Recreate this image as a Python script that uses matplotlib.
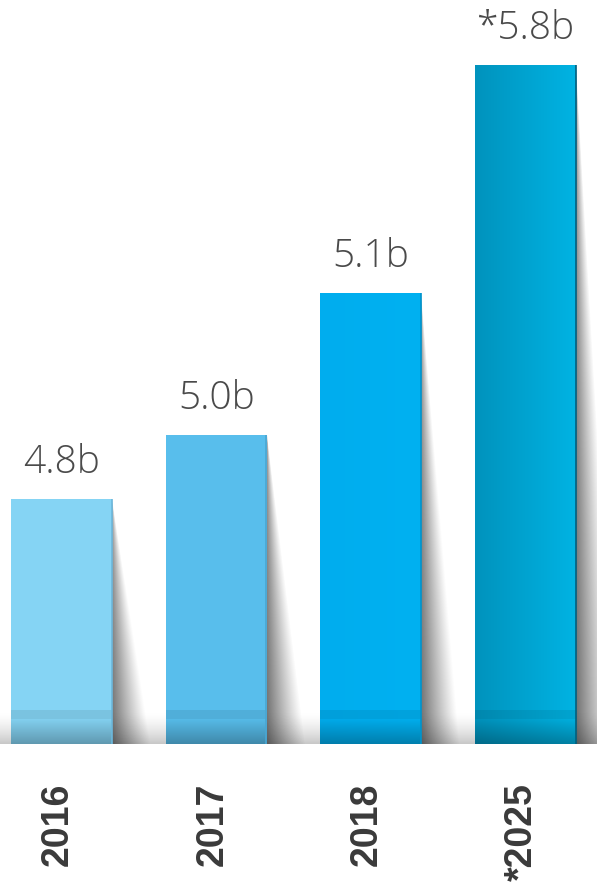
import numpy as np
import matplotlib.pyplot as plt
from matplotlib.colors import to_rgb
from matplotlib.patches import Polygon

# data
years = ['2016', '2017', '2018', '*2025']
values = [4.8, 5.0, 5.1, 5.8]
value_labels = ['4.8b', '5.0b', '5.1b', '*5.8b']
# drawn bar heights (bars are not to scale)
bar_heights = [2.45, 3.09, 4.51, 6.79]

# styles
left_colors = ['#85d4f4', '#58beec', '#00adee', '#0093bd']
right_colors = ['#85d4f4', '#58beec', '#00b1f1', '#00b3e3']
edge_colors = ['#6cb8dc', '#4aa6d2', '#0094cc', '#00607f']

fig = plt.figure(figsize=(5.97, 8.87), dpi=100)
ax = fig.add_axes([0, 0, 1, 1])
ax.axis('off')
ax.set_xlim(-0.399, 3.4625)
ax.set_ylim(-1.42, 7.45)

x = np.arange(len(years))
width = 0.653
bars = ax.bar(x, bar_heights, width, color=left_colors, zorder=3)

# soft grey floor band behind the bars
band_h = 0.33
yy = np.linspace(0, 1, 60)[:, None]
band = np.zeros((60, 10, 4))
band[..., 3] = 0.22 * (1 - yy) ** 1.5
ax.imshow(band, extent=(-0.399, 3.4625, 0, band_h), origin='lower',
          aspect='auto', zorder=1, interpolation='bilinear')

sw = 0.25  # shadow width at the floor
for i, rect in enumerate(bars):
    l = rect.get_x()
    r = l + rect.get_width()
    h = rect.get_height()

    # bar fill: horizontal gradient plus reflection strip at the bottom
    ny = int(h * 100)
    nx = 101
    cols = np.linspace(0, 1, nx)
    c0 = np.array(to_rgb(left_colors[i]))
    c1 = np.array(to_rgb(right_colors[i]))
    row = c0[None, :] + (c1 - c0)[None, :] * cols[:, None]
    ys = (np.arange(ny) + 0.5) / 100.0
    fac = np.ones(ny)
    low = ys < 0.25
    fac[low] = 0.72 + 0.26 * (ys[low] / 0.25)
    mid = (ys >= 0.25) & (ys < 0.34)
    fac[mid] = 0.92
    img = row[None, :, :] * fac[:, None, None]
    im = ax.imshow(np.clip(img, 0, 1), extent=(l, r, 0, h), origin='lower',
                   aspect='auto', zorder=4, interpolation='bilinear')
    im.set_clip_path(rect)
    ax.vlines(r - 0.003, 0, h, color=edge_colors[i], lw=1.2, zorder=5)

    # slanted drop shadow to the right of the bar
    sx = np.linspace(0, 1, 80)
    sy = np.linspace(0, 1, max(ny, 2))
    X, Y = np.meshgrid(sx, sy)
    local = np.clip(1 - Y, 1e-3, None)
    t = np.clip(X / local, 0, 1)
    d_edge = 0.42 + 0.14 * (1 - Y)
    shadow = np.zeros(X.shape + (4,))
    shadow[..., 3] = d_edge * (1 - t) ** 1.1
    tri = Polygon([(r, h), (r, 0), (r + sw, 0)], closed=True,
                  transform=ax.transData)
    sh = ax.imshow(shadow, extent=(r, r + sw, h, 0), origin='upper',
                   aspect='auto', zorder=2, interpolation='bilinear')
    sh.set_clip_path(tri)

    ax.annotate(value_labels[i], (x[i], h), xytext=(0, 19.5),
                textcoords='offset points', ha='center', va='baseline',
                fontsize=28, family='Open Sans', fontweight='light',
                color='#4a4a4a')

    ax.text(x[i] - 0.025, -0.38, years[i], rotation=90, ha='center', va='top',
            fontsize=27, fontweight='bold', family='Liberation Sans',
            color='#3a3a3a')

fig.savefig('out.png', dpi=100)
